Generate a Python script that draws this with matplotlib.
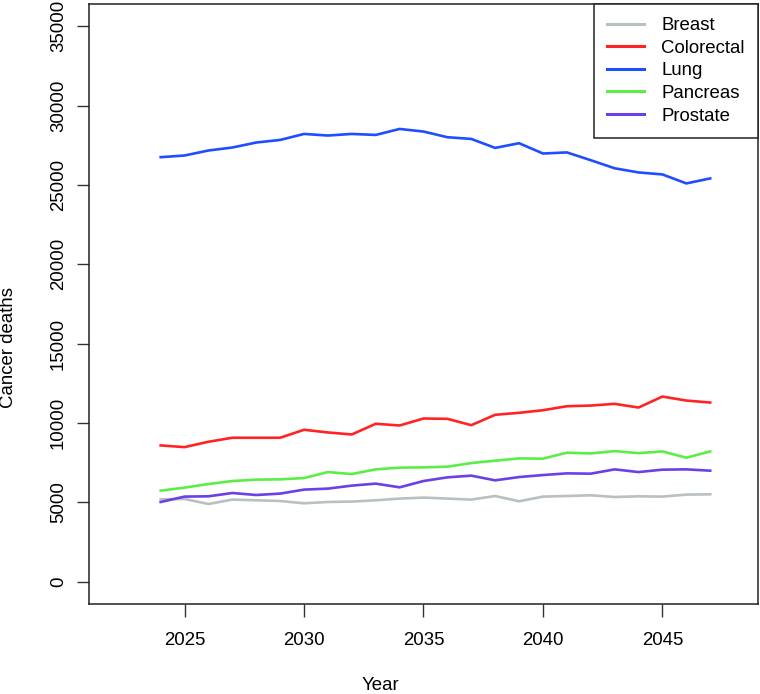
import numpy as np
import matplotlib
matplotlib.use('Agg')
import matplotlib.pyplot as plt

plt.rcParams['font.family'] = ['Liberation Sans', 'DejaVu Sans']

years = np.arange(2024, 2048)

breast = [5197, 5216, 4901, 5178, 5134, 5090, 4945, 5027, 5052, 5134, 5241, 5303,
          5241, 5178, 5404, 5071, 5366, 5404, 5448, 5341, 5385, 5366, 5492, 5511]
colorectal = [8590, 8483, 8822, 9074, 9074, 9074, 9576, 9407, 9281, 9953, 9847, 10286,
              10266, 9866, 10519, 10645, 10808, 11059, 11103, 11210, 10978, 11669, 11418, 11292]
lung = [26750, 26856, 27170, 27359, 27673, 27836, 28214, 28113, 28214, 28151, 28528, 28365,
        28007, 27900, 27334, 27630, 26980, 27050, 26560, 26050, 25789, 25663, 25097, 25412]
pancreas = [5743, 5932, 6158, 6347, 6434, 6453, 6535, 6912, 6786, 7082, 7189, 7208,
            7251, 7478, 7629, 7773, 7754, 8131, 8087, 8232, 8106, 8213, 7817, 8213]
prostate = [5027, 5366, 5385, 5593, 5467, 5555, 5806, 5869, 6058, 6183, 5951, 6347,
            6579, 6686, 6391, 6598, 6724, 6830, 6811, 7082, 6912, 7063, 7082, 7000]

series_names = ['Breast', 'Colorectal', 'Lung', 'Pancreas', 'Prostate']
series_values = [breast, colorectal, lung, pancreas, prostate]
series_colors = ['#B8C0C0', '#FF2424', '#1F4EFF', '#5CEE48', '#6A40E8']

x_ticks = [2025, 2030, 2035, 2040, 2045]
y_ticks = [0, 5000, 10000, 15000, 20000, 25000, 30000, 35000]

FS = 13.4

fig = plt.figure(figsize=(7.6, 6.94), dpi=100)
ax = fig.add_axes([89 / 760, 90 / 694, 669 / 760, 600 / 694])

for name, vals, col in zip(series_names, series_values, series_colors):
    ax.plot(years, vals, color=col, linewidth=1.9, label=name)

ax.set_xlim(2021, 2049)
ax.set_ylim(-1400, 36400)
ax.set_xticks(x_ticks)
ax.set_yticks(y_ticks)
ax.set_xticklabels([str(t) for t in x_ticks])
ax.set_yticklabels([str(t) for t in y_ticks])
ax.tick_params(axis='both', direction='out', length=9, width=1, labelsize=FS, color='#333333')
ax.tick_params(axis='x', pad=11)
ax.tick_params(axis='y', pad=7)
plt.setp(ax.get_yticklabels(), rotation=90, va='center')

for sp in ax.spines.values():
    sp.set_linewidth(1.1)
    sp.set_color('#222222')

# подписи осей
fig.text(0.5, 4 / 694, 'Year', ha='center', va='baseline', fontsize=FS)
fig.text(9 / 760, 0.5, 'Cancer deaths', ha='center', va='center', rotation=90, fontsize=FS)

leg = ax.legend(loc='upper right', borderaxespad=0, fancybox=False, framealpha=1,
                edgecolor='#222222', fontsize=FS, handlelength=2.0, handletextpad=0.92,
                borderpad=0.7, labelspacing=0.3)
leg.get_frame().set_linewidth(1.1)
for line in leg.get_lines():
    line.set_linewidth(2.2)

fig.savefig('out.png', dpi=100)
plt.close(fig)
